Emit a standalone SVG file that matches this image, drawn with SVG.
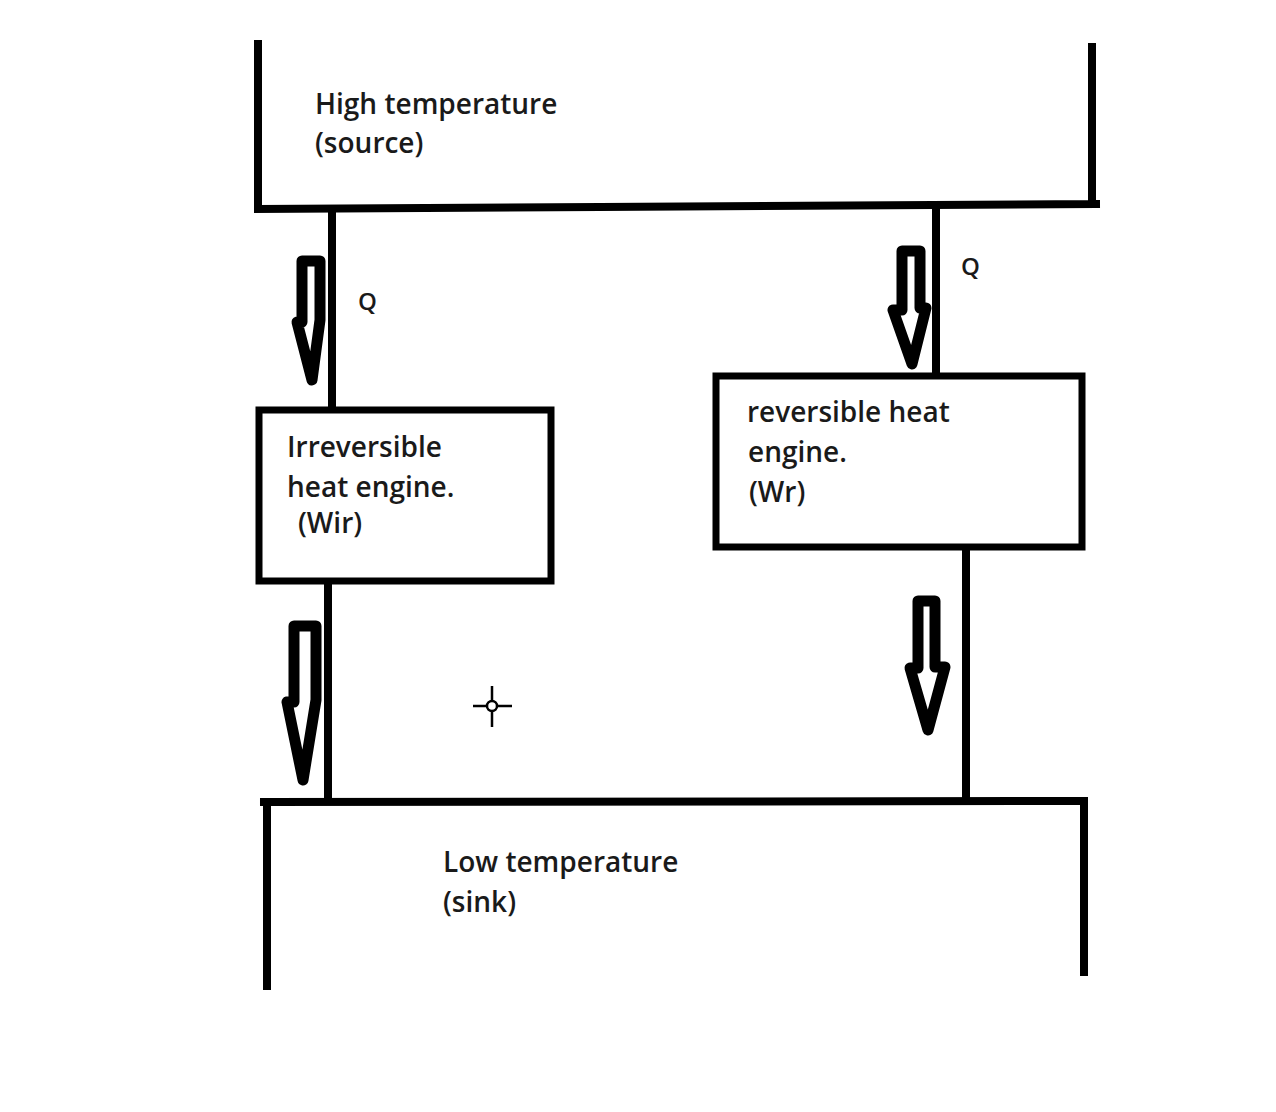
<svg xmlns="http://www.w3.org/2000/svg" width="1276" height="1112" viewBox="0 0 1276 1112">
<style>
.ln{stroke:#000;stroke-width:8;fill:none;stroke-linecap:square}
.box{stroke:#000;stroke-width:7;fill:#fff}
.arr{stroke:#000;stroke-width:11;fill:#fff;stroke-linejoin:round}
.t{font-family:"Open Sans","Liberation Sans",sans-serif;font-size:28px;font-weight:600;fill:#1a1a1a}
.q{font-family:"Open Sans","Liberation Sans",sans-serif;font-size:24px;font-weight:600;fill:#1a1a1a}
</style>
<rect width="1276" height="1112" fill="#fff"/>
<g id="source">
<path class="ln" d="M258 44 V209 L600 207 L1096 204 M1092 47 V204"/>
<text class="t" x="315" y="114">High temperature</text>
<text class="t" x="315" y="153">(source)</text>
</g>
<g id="sink">
<path class="ln" d="M264 802 L1084 801 M267 802 V986 M1084 801 V972"/>
<text class="t" x="443" y="872">Low temperature</text>
<text class="t" x="443" y="912">(sink)</text>
</g>
<g id="connectors">
<path class="ln" d="M332 209 V410 M328 580 V800 M936 206 V376 M966 546 V800"/>
<path class="arr" d="M302 261 H320 V320 L312 380 L297 322 H302 Z"/>
<path class="arr" d="M294 626 H316 V700 L303 780 L287 702 H294 Z"/>
<path class="arr" d="M902 251 H920 V308 H926 L912 364 L893 310 H902 Z"/>
<path class="arr" d="M918 601 H935 V667 H945 L928 730 L910 668 H918 Z"/>
<text class="q" x="358" y="310">Q</text>
<text class="q" x="961" y="275">Q</text>
</g>
<g id="irreversible">
<rect class="box" x="259" y="410" width="292" height="171"/>
<text class="t" x="287" y="457">Irreversible</text>
<text class="t" x="287" y="497">heat engine.</text>
<text class="t" x="298" y="533" font-size="26">(Wir)</text>
</g>
<g id="reversible">
<rect class="box" x="716" y="376" width="366" height="171"/>
<text class="t" x="747" y="422">reversible heat</text>
<text class="t" x="748" y="462">engine.</text>
<text class="t" x="749" y="502">(Wr)</text>
</g>
<g id="cursor" stroke="#000" stroke-width="2.5" fill="none">
<path d="M473 706 H512 M492 686 V727"/>
<circle cx="492" cy="706" r="5" fill="#fff"/>
</g>
</svg>
